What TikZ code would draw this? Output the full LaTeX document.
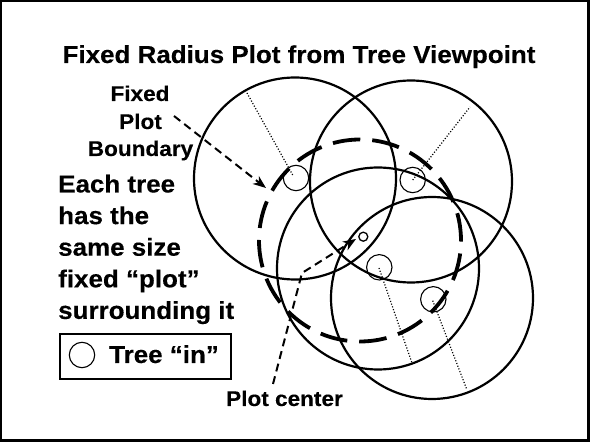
\documentclass[tikz,border=0pt]{standalone}
\usepackage{fontspec}
\setmainfont{Liberation Sans}[FakeStretch=1.06,FakeBold=0.3]
\usetikzlibrary{arrows.meta}
\tikzset{
  big/.style={draw, line width=2.2pt},
  plotb/.style={draw, line width=3.8pt, dash pattern=on 27.6pt off 12pt},
  tree/.style={circle, draw, line width=1.1pt, minimum size=25.4pt, inner sep=0pt},
  rad/.style={line width=1.2pt, dash pattern=on 1.1pt off 1.8pt},
  darrow/.style={line width=2pt, dash pattern=on 8pt off 5pt, -{Stealth[length=13pt,width=10pt,inset=4pt]}},
  bigtxt/.style={font=\fontsize{24.5}{28}\selectfont\bfseries, inner sep=0pt},
  smalltxt/.style={font=\fontsize{21.3}{24}\selectfont\bfseries, inner sep=0pt}
}
\begin{document}
\begin{tikzpicture}[x=1pt,y=-1pt]
\useasboundingbox (0,0) rectangle (590,443);
\draw[line width=2.5pt] (1.2,1.2) rectangle (588.3,440.3);

% title
\node[bigtxt, anchor=base] (title) at (299,63) {Fixed Radius Plot from Tree Viewpoint};

% big tree circles
\draw[big] (295,178.5) circle[radius=101pt];
\draw[big] (411,181.5) circle[radius=101pt];
\draw[big] (378,268.5) circle[radius=101pt];
\draw[big] (432,298) circle[radius=101pt];

% fixed plot boundary
\draw[plotb] (360,240.5) circle[radius=101pt];

% trees
\node[tree] (t1) at (296,178) {};
\node[tree] (t2) at (412.7,180) {};
\node[tree] (t3) at (379.3,267.3) {};
\node[tree] (t4) at (433.3,299.3) {};
\node[circle, draw, line width=1.3pt, minimum size=9pt, inner sep=0pt] (pc) at (363.3,236.7) {};

% radii
\coordinate (r1) at (247,93);
\coordinate (r2) at (470,107);
\coordinate (r3) at (412,363);
\coordinate (r4) at (467,390);
\draw[rad] (292.7,175) -- (r1);
\draw[rad] (t2.center) -- (r2);
\draw[rad] (379,268) -- (r3);
\draw[rad] (432.7,300.7) -- (r4);

% left labels
\node[smalltxt, anchor=base] (f1) at (140,101) {Fixed};
\node[smalltxt, anchor=base] (f2) at (140.5,129) {Plot};
\node[smalltxt, anchor=base] (f3) at (140.5,156) {Boundary};

\node[bigtxt, anchor=base west] (l1) at (58,192.5) {Each tree};
\node[bigtxt, anchor=base west] (l2) at (58,224.1) {has the};
\node[bigtxt, anchor=base west] (l3) at (58,255.7) {same size};
\node[bigtxt, anchor=base west] (l4) at (58,287.3) {fixed “plot”};
\node[bigtxt, anchor=base west] (l5) at (58,318.9) {surrounding it};

% legend
\node[draw, line width=2pt, minimum width=171.5pt, minimum height=45pt, inner sep=0pt] (legend) at (145.25,356.5) {};
\node[tree] (lt) at (82,355) {};
\node[bigtxt, anchor=base west] (ltxt) at (109,363) {Tree “in”};

% plot center label
\node[smalltxt, anchor=base] (pcl) at (284.5,406) {Plot center};

% arrows
\coordinate (a1s) at (174,116);
\coordinate (a1e) at (266,188);
\draw[darrow] (a1s) -- (a1e);
\coordinate (a2s) at (273,384);
\coordinate (a2m) at (302,273);
\coordinate (a2e) at (356,239);
\draw[darrow] (a2s) -- (a2m) -- (a2e);
\end{tikzpicture}
\end{document}
